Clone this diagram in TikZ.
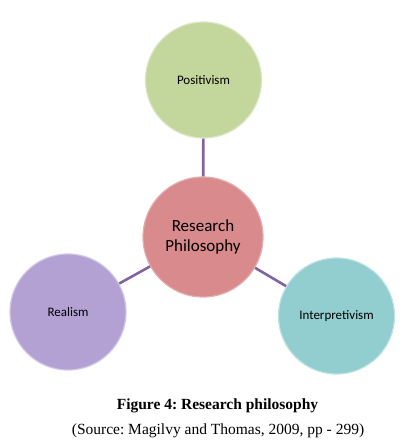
\documentclass[tikz,border=0pt]{standalone}
\usepackage{fontspec}
\setmainfont{Liberation Serif}
\newfontfamily\calibrifont{Carlito}
\usetikzlibrary{positioning, calc}
\frenchspacing

\definecolor{posgreen}{RGB}{195,214,155}
\definecolor{respink}{RGB}{217,138,140}
\definecolor{realpurple}{RGB}{178,161,210}
\definecolor{intteal}{RGB}{146,206,207}
\definecolor{linkpurple}{RGB}{128,100,162}

\begin{document}
\begin{tikzpicture}[
    x=1pt, y=1pt,
    bubble/.style={circle, minimum size=116pt, inner sep=0pt, align=center, line width=1.2pt, font=\calibrifont\fontsize{13}{15}\selectfont},
    hub/.style={bubble, minimum size=120pt, font=\calibrifont\fontsize{17}{20}\selectfont},
    link/.style={draw=linkpurple, line width=2.6pt},
    note/.style={font=\fontsize{15.5}{18}\selectfont}
]
    \useasboundingbox (0,0) rectangle (408,446);

    \node (hub) [hub, fill=respink, draw=respink!70!white] at (203,209) {Research\\Philosophy};
    \node (pos) [bubble, fill=posgreen, draw=posgreen!60!white] at (203.5,366) {Positivism};
    \node (real) [bubble, fill=realpurple, draw=realpurple!60!white] at (68,134) {Realism};
    \node (interp) [bubble, fill=intteal, draw=intteal!60!white] at (336.5,130) {Interpretivism};

    \draw [link] (hub) -- (pos);
    \draw [link] (hub) -- (real);
    \draw [link] (hub) -- (interp);

    \node (caption) [note, font=\fontsize{15.5}{18}\selectfont\bfseries] at (217.5,40) {Figure 4: Research philosophy};
    \node (source) [note] at (218,15) {(Source: Magilvy and Thomas, 2009, pp - 299)};
\end{tikzpicture}
\end{document}
